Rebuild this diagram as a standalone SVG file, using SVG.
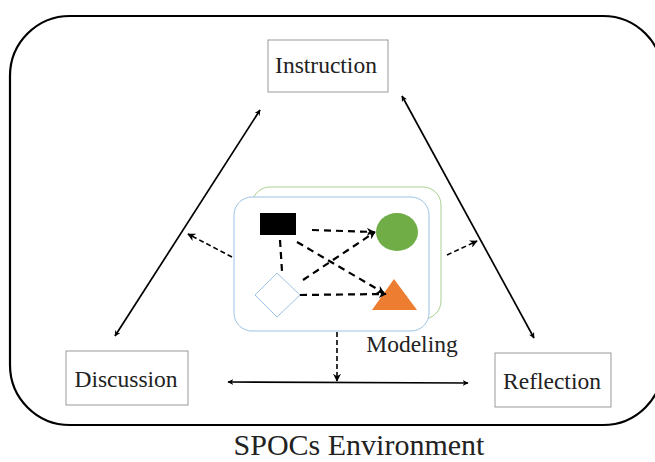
<svg xmlns="http://www.w3.org/2000/svg" width="655" height="462" viewBox="0 0 655 462">
<defs>
<marker id="ah" viewBox="0 0 10 10" refX="9" refY="5" markerWidth="6" markerHeight="6" orient="auto-start-reverse" markerUnits="userSpaceOnUse">
<path d="M0,0 L10,5 L0,10 L3,5 Z" fill="#000"/>
</marker>
<marker id="ahd" viewBox="0 0 10 10" refX="9" refY="5" markerWidth="8" markerHeight="8" orient="auto" markerUnits="userSpaceOnUse">
<path d="M0,0 L10,5 L0,10 L3,5 Z" fill="#000"/>
</marker>
</defs>
<style>
.box{fill:#fff;stroke:#999;stroke-width:1}
.lbl{font-family:"Liberation Serif","Times New Roman",serif;font-size:23.5px;fill:#222;text-anchor:middle}
.solid{stroke:#000;stroke-width:1.7;fill:none;marker-start:url(#ah);marker-end:url(#ah)}
.dash{stroke:#000;stroke-width:1.6;fill:none;stroke-dasharray:5,3}
.dashin{stroke:#000;stroke-width:2.2;fill:none;stroke-dasharray:7,5}
</style>
<rect width="655" height="462" fill="#fff"/>
<rect id="environment" x="10" y="16" width="653" height="409" rx="60" ry="60" fill="none" stroke="#000" stroke-width="2.2"/>
<g id="modeling">
<rect x="252" y="187" width="189" height="132" rx="18" fill="none" stroke="#a9d18e" stroke-width="1"/>
<rect x="234" y="197" width="195" height="134" rx="18" fill="#fff" stroke="#9dc3e6" stroke-width="1"/>
<rect x="260" y="213" width="36" height="22" fill="#000"/>
<ellipse cx="397" cy="232" rx="21" ry="19" fill="#70ad47"/>
<polygon points="372,310 417,310 394,279" fill="#ed7d31"/>
<polygon points="255,295 277,273 300,295 277,317" fill="#fff" stroke="#9dc3e6" stroke-width="1"/>
<g>
<line class="dashin" x1="312" y1="230" x2="374" y2="232" marker-end="url(#ahd)"/>
<line class="dashin" x1="297" y1="242" x2="384" y2="293" marker-end="url(#ahd)"/>
<line class="dashin" x1="280" y1="240" x2="282" y2="271"/>
<line class="dashin" x1="303" y1="280" x2="375" y2="232" marker-end="url(#ahd)"/>
<line class="dashin" x1="300" y1="295" x2="386" y2="294" marker-end="url(#ahd)"/>
</g>
<text x="412" y="352" class="lbl">Modeling</text>
</g>
<g id="instruction">
<rect class="box" x="268" y="40" width="120" height="52"/>
<text x="326" y="73" class="lbl">Instruction</text>
</g>
<g id="discussion">
<rect class="box" x="66" y="351" width="122" height="54"/>
<text x="126" y="387" class="lbl">Discussion</text>
</g>
<g id="reflection">
<rect class="box" x="495" y="353" width="116" height="54"/>
<text x="552" y="389" class="lbl">Reflection</text>
</g>
<g id="connectors">
<line class="solid" x1="260" y1="110" x2="115" y2="336"/>
<line class="solid" x1="402" y1="96" x2="534" y2="338"/>
<line class="solid" x1="228" y1="382" x2="468" y2="383"/>
<line class="dash" x1="232" y1="257" x2="188" y2="234" marker-end="url(#ahd)"/>
<line class="dash" x1="447" y1="255" x2="477" y2="241" marker-end="url(#ahd)"/>
<line class="dash" x1="337" y1="332" x2="337" y2="381" marker-end="url(#ahd)"/>
</g>
<text x="359" y="455" font-family="Liberation Serif, Times New Roman, serif" font-size="30" fill="#222" text-anchor="middle">SPOCs Environment</text>
</svg>
